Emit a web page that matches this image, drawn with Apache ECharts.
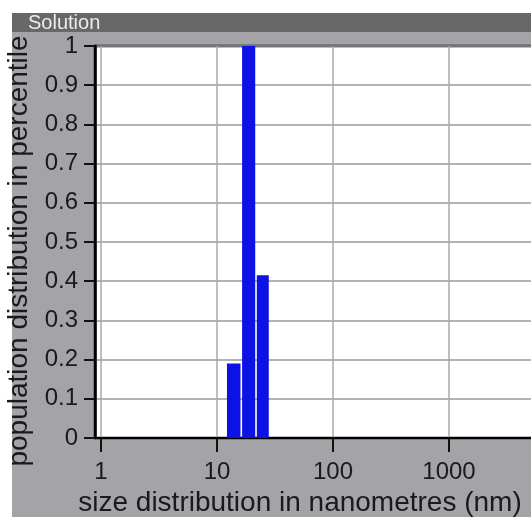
<!DOCTYPE html>
<html>
<head>
<meta charset="utf-8">
<script src="https://cdn.jsdelivr.net/npm/echarts@6/dist/echarts.min.js"></script>
<style>
html,body{margin:0;padding:0;background:#fff;}
#chart{width:531px;height:518px;}
</style>
</head>
<body>
<div id="chart"></div>
<script>
// Data
const binEdges = [12, 16.2, 21.7, 28.4];          // size bin edges (nm)
const popValues = [0.19, 1.0, 0.415];              // population distribution per bin
const xTickValues = [1, 10, 100, 1000];            // x-axis tick positions
const xTickLabels = ['1', '10', '100', '1000'];    // x-axis tick labels
const yTickLabels = ['0','0.1','0.2','0.3','0.4','0.5','0.6','0.7','0.8','0.9','1'];
const panelTitle = 'Solution';
const xTitle = 'size distribution in nanometres (nm)';
const yTitle = 'population distribution in percentile';

const FONT = '"Liberation Sans", Arial, Helvetica, sans-serif';
const chart = echarts.init(document.getElementById('chart'), null, {renderer: 'canvas'});

const barData = popValues.map((v, i) => [binEdges[i], binEdges[i + 1], v]);

chart.setOption({
  animation: false,
  backgroundColor: '#a4a4a8',
  graphic: [
    {type: 'rect', shape: {x: 0, y: 0, width: 12, height: 518}, style: {fill: '#ffffff'}, silent: true},
    {type: 'rect', shape: {x: 0, y: 0, width: 531, height: 13}, style: {fill: '#ffffff'}, silent: true},
    {type: 'rect', shape: {x: 0, y: 517, width: 531, height: 1}, style: {fill: '#ffffff'}, silent: true},
    {type: 'rect', shape: {x: 12, y: 13, width: 519, height: 19}, style: {fill: '#686868'}, silent: true},
    {type: 'text', x: 28, y: 23.5, style: {text: panelTitle, fill: '#ececec', font: '20px ' + FONT, textVerticalAlign: 'middle'}, silent: true}
  ],
  grid: {
    left: 95, top: 46, width: 470, height: 392,
    outerBoundsMode: 'none', containLabel: false,
    show: true, backgroundColor: '#ffffff', borderColor: '#000000', borderWidth: 2.5
  },
  xAxis: {
    type: 'log', logBase: 10, min: 0.888, max: 10000,
    name: xTitle, nameLocation: 'middle', nameGap: 48,
    nameTextStyle: {fontFamily: FONT, fontSize: 28, color: '#1a1a1a', padding: [0, 60, 0, 0]},
    axisLine: {show: true, lineStyle: {color: '#000', width: 2}},
    axisTick: {show: true, length: 14, customValues: xTickValues, lineStyle: {color: '#111', width: 2}},
    axisLabel: {customValues: xTickValues, margin: 22, fontFamily: FONT, fontSize: 24, color: '#1a1a1a',
      formatter: (v) => xTickLabels[xTickValues.indexOf(Math.round(v))] || ''},
    splitLine: {show: true, lineStyle: {color: '#a8a8a8', width: 1.5}},
    minorTick: {show: false}, minorSplitLine: {show: false}
  },
  yAxis: {
    type: 'value', min: 0, max: 1, interval: 0.1,
    name: yTitle, nameLocation: 'middle', nameRotate: 90, nameGap: 58,
    nameTextStyle: {fontFamily: FONT, fontSize: 28, color: '#1a1a1a', padding: [0, 18, 0, 0]},
    axisLine: {show: true, lineStyle: {color: '#000', width: 2.5}},
    axisTick: {show: true, length: 11, lineStyle: {color: '#111', width: 2}},
    axisLabel: {margin: 17, fontFamily: FONT, fontSize: 24, color: '#1a1a1a',
      formatter: (v) => yTickLabels[Math.round(v * 10)]},
    splitLine: {show: true, lineStyle: {color: '#9a9a9a', width: 1.5}}
  },
  series: [{
    type: 'custom',
    data: barData,
    encode: {x: [0, 1], y: 2},
    clip: true,
    renderItem: function (params, api) {
      const p0 = api.coord([api.value(0), api.value(2)]);
      const p1 = api.coord([api.value(1), 0]);
      return {
        type: 'rect',
        shape: {x: p0[0] + 0.8, y: p0[1], width: p1[0] - p0[0] - 1.6, height: p1[1] - p0[1]},
        style: {fill: '#0c12e4'}
      };
    }
  }]
});
</script>
</body>
</html>
